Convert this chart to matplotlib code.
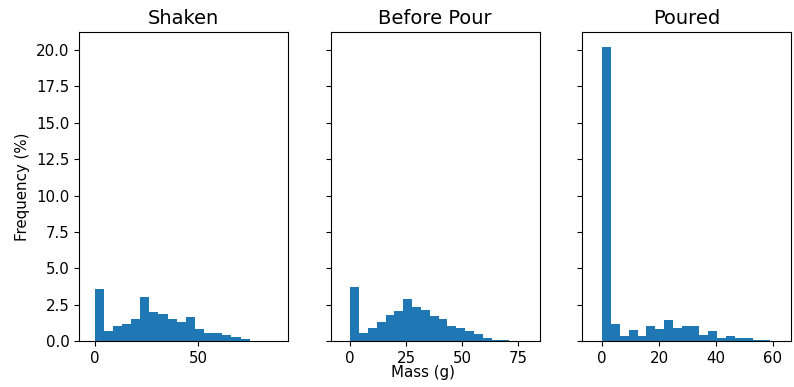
import numpy as np
import matplotlib
matplotlib.use("Agg")
import matplotlib.pyplot as plt

# histogram bin heights (%)
titles = ["Shaken", "Before Pour", "Poured"]
bin_widths = [4.4, 3.95, 3.11]

shaken = [3.57, 0.69, 1.08, 1.21, 1.53, 3.04, 2.01, 1.85, 1.53, 1.30,
          1.67, 0.85, 0.60, 0.57, 0.41, 0.27, 0.14]
before_pour = [3.75, 0.60, 0.89, 1.33, 1.78, 2.06, 2.88, 2.36, 2.13, 1.72,
               1.56, 1.03, 0.92, 0.69, 0.53, 0.25, 0.11, 0.07]
poured = [20.23, 1.19, 0.39, 0.76, 0.39, 1.03, 0.85, 1.49, 0.92, 1.08,
          1.08, 0.46, 0.69, 0.21, 0.39, 0.23, 0.23, 0.11, 0.11]

series = [shaken, before_pour, poured]
xlims = [(-7.5, 93.3), (-8.7, 84.7), (-7.0, 66.5)]
xticks = [[0, 50], [0, 25, 50, 75], [0, 20, 40, 60]]

W, H = 794, 387
fig = plt.figure(figsize=(W / 100, H / 100), dpi=100)

lefts = [79, 330.7, 582.3]
axes = []
for i, left in enumerate(lefts):
    ax = fig.add_axes([left / W, (H - 341.3) / H, 209 / W, (341.3 - 32) / H],
                      sharey=axes[0] if axes else None)
    axes.append(ax)
    vals = np.array(series[i])
    edges = np.arange(len(vals)) * bin_widths[i]
    ax.bar(edges, vals, width=bin_widths[i], align="edge", color="#1f77b4")
    ax.set_xlim(*xlims[i])
    ax.set_xticks(xticks[i])
    ax.set_title(titles[i], fontsize=14)
    ax.tick_params(labelsize=10.8)
    if i > 0:
        ax.tick_params(labelleft=False)

axes[0].set_ylim(0, 21.24)
axes[0].set_yticks(np.arange(0, 20.1, 2.5))
axes[0].set_ylabel("Frequency (%)", fontsize=10.8)
fig.text(423 / W, 1 - 372 / H, "Mass (g)", ha="center", va="center", fontsize=10.8)

fig.savefig("out.png", dpi=100)
